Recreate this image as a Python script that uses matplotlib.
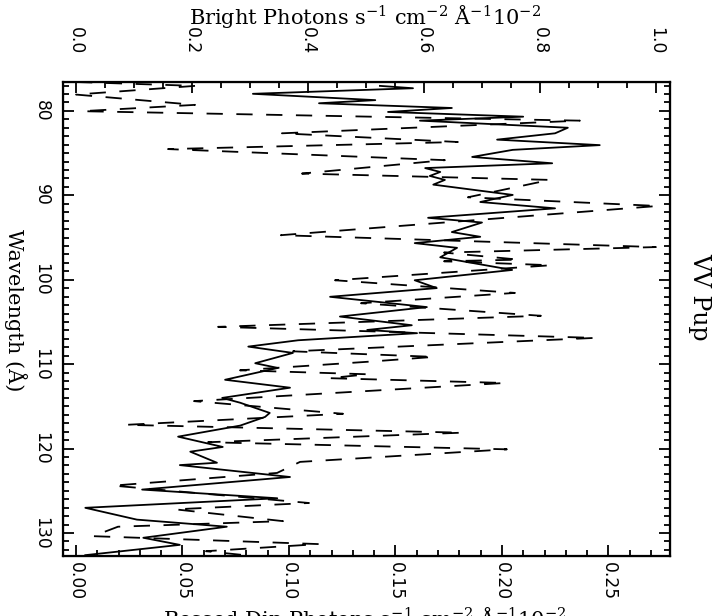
import matplotlib
matplotlib.use("Agg")
import matplotlib.pyplot as plt
from matplotlib.ticker import MultipleLocator

plt.rcParams['mathtext.fontset'] = 'dejavuserif'

# solid curve: bright spectrum (wavelength in A, flux on top axis)
bright_wave = [77.03, 77.31, 77.97, 78.72, 79.09, 79.65, 80.12, 80.68, 81.15, 81.99,
               82.65, 83.40, 84.05, 84.61, 85.45, 86.20, 86.77, 87.23, 87.70, 88.17,
               88.73, 89.95, 90.79, 91.54, 92.66, 93.22, 94.35, 94.91, 95.66, 96.22,
               97.34, 98.84, 100.06, 100.99, 102.02, 103.24, 104.36, 105.39, 105.95, 106.33,
               107.17, 107.92, 108.67, 109.89, 110.45, 111.85, 112.79, 114.00, 114.57, 115.78,
               116.25, 117.28, 118.59, 119.81, 120.37, 121.68, 121.96, 123.37, 124.86, 125.89,
               127.02, 128.42, 129.26, 130.57, 131.41, 132.63]
bright_flux = [0.524, 0.581, 0.305, 0.516, 0.419, 0.648, 0.538, 0.771, 0.593, 0.848,
               0.826, 0.726, 0.903, 0.753, 0.683, 0.821, 0.602, 0.628, 0.610, 0.636,
               0.616, 0.753, 0.697, 0.826, 0.607, 0.700, 0.648, 0.697, 0.584, 0.657,
               0.628, 0.752, 0.584, 0.622, 0.438, 0.605, 0.455, 0.579, 0.502, 0.588,
               0.383, 0.297, 0.374, 0.309, 0.348, 0.257, 0.369, 0.252, 0.283, 0.334,
               0.326, 0.283, 0.176, 0.253, 0.197, 0.243, 0.179, 0.369, 0.114, 0.347,
               0.016, 0.105, 0.260, 0.116, 0.179, 0.016]

# dashed curve: dip spectrum (flux on bottom axis)
dip_wave = [76.57, 77.03, 78.06, 79.28, 80.03, 81.15, 82.65, 83.68, 84.52, 85.83,
            87.42, 88.17, 90.23, 91.26, 94.72, 96.13, 96.78, 97.62, 97.81, 98.28,
            100.06, 101.56, 102.78, 104.27, 105.58, 106.89, 108.48, 109.14, 109.70, 110.73,
            111.20, 111.66, 112.23, 114.38, 115.88, 117.19, 118.12, 119.25, 120.09, 121.58,
            122.89, 124.39, 126.45, 127.20, 128.60, 129.26, 130.38, 131.32, 132.16, 132.73]
dip_flux = [0.000, 0.0559, 0.000, 0.0559, 0.0028, 0.2366, 0.0967, 0.1793, 0.0432, 0.1732,
            0.1061, 0.2225, 0.1840, 0.2732, 0.0962, 0.2723, 0.1728, 0.2080, 0.1728, 0.2230,
            0.1216, 0.2061, 0.1338, 0.2183, 0.0667, 0.2437, 0.1019, 0.1681, 0.1380, 0.0770,
            0.1371, 0.1188, 0.2014, 0.0554, 0.1254, 0.0235, 0.1812, 0.0620, 0.2023, 0.1052,
            0.0944, 0.0174, 0.1094, 0.0465, 0.0972, 0.0197, 0.0080, 0.1141, 0.0610, 0.0831]

fig = plt.figure(figsize=(7.17, 6.16), dpi=100)
ax = fig.add_axes([0.0879, 0.0974, 0.8465, 0.7695])

ax.plot(dip_flux, dip_wave, color='black', lw=1.3, dashes=(9, 7.5))
ax.set_xlim(-0.0061, 0.2789)
ax.set_ylim(132.73, 76.57)

ax2 = ax.twiny()
ax2.plot(bright_flux, bright_wave, color='black', lw=1.3)
ax2.set_xlim(-0.0224, 1.0241)

for sp in ax.spines.values():
    sp.set_linewidth(1.6)

ax.xaxis.set_major_locator(MultipleLocator(0.05))
ax.xaxis.set_minor_locator(MultipleLocator(0.01))
ax.yaxis.set_major_locator(MultipleLocator(10))
ax.yaxis.set_minor_locator(MultipleLocator(1))
ax2.xaxis.set_major_locator(MultipleLocator(0.2))
ax2.xaxis.set_minor_locator(MultipleLocator(0.05))

ax.tick_params(axis='x', which='both', direction='in', top=False, bottom=True,
               width=1.3, labelsize=12.3, pad=4)
ax.tick_params(axis='y', which='both', direction='in', left=True, right=True,
               width=1.3, labelsize=12.3, pad=9)
ax.tick_params(which='major', length=8)
ax.tick_params(which='minor', length=4)
ax2.tick_params(axis='x', which='both', direction='in', top=True, bottom=False,
                width=1.3, labelsize=12.3, pad=20)
ax2.tick_params(which='major', length=8)
ax2.tick_params(which='minor', length=4)

ax.set_xticks([0.0, 0.05, 0.10, 0.15, 0.20, 0.25])
ax.set_xticklabels(['0.00', '0.05', '0.10', '0.15', '0.20', '0.25'], rotation=-90)
ax.set_yticks([80, 90, 100, 110, 120, 130])
ax.set_yticklabels(['80', '90', '100', '110', '120', '130'], rotation=-90, va='center')
ax2.set_xticks([0.0, 0.2, 0.4, 0.6, 0.8, 1.0])
ax2.set_xticklabels(['0.0', '0.2', '0.4', '0.6', '0.8', '1.0'], rotation=-90)

serif = 'DejaVu Serif'
fig.text(365 / 717, 1 - 16 / 616,
         'Bright Photons s$^{-1}$ cm$^{-2}$ Å$^{-1}$10$^{-2}$',
         ha='center', va='center', fontsize=15, family=serif)
fig.text(365 / 717, 1 - 618 / 616,
         'Bossed Dip Photons s$^{-1}$ cm$^{-2}$ Å$^{-1}$10$^{-2}$',
         ha='center', va='center', fontsize=15, family=serif)
fig.text(15 / 717, 1 - 310 / 616, 'Wavelength (Å)', rotation=-90,
         ha='center', va='center', fontsize=15, family=serif)
fig.text(700 / 717, 1 - 297 / 616, 'VV Pup', rotation=-90,
         ha='center', va='center', fontsize=17, family=serif)

fig.savefig('out.png', dpi=100)
